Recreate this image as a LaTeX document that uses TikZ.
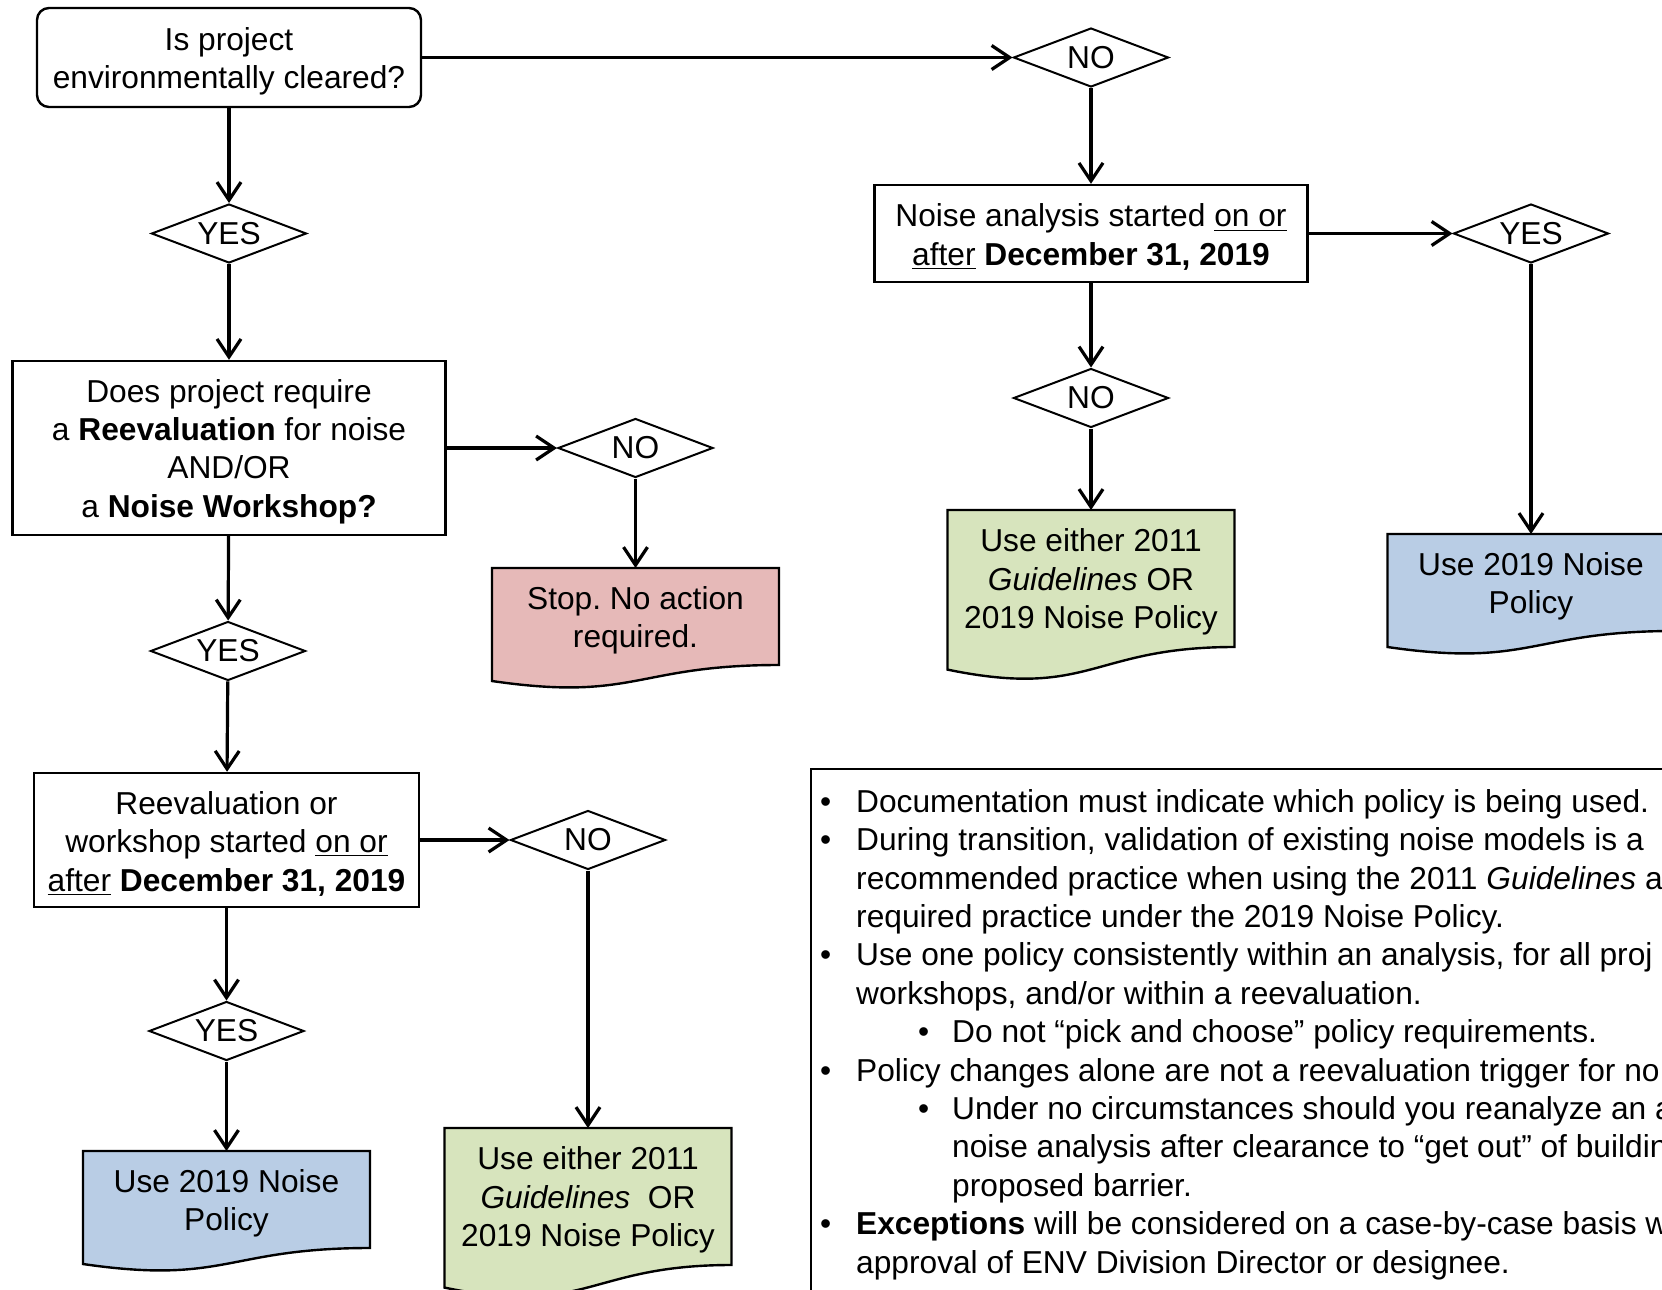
\documentclass[tikz,border=0pt]{standalone}
\usepackage{fontspec}
\setmainfont{Liberation Sans}
\frenchspacing
\usetikzlibrary{shapes.geometric,arrows.meta,backgrounds,calc}

\definecolor{policyblue}{HTML}{B9CDE5}
\definecolor{eithergreen}{HTML}{D7E4BD}
\definecolor{stopred}{HTML}{E6B9B8}

\tikzset{
  every node/.style={font=\fontsize{15.85}{19.2}\selectfont, align=center},
  qbox/.style={draw, line width=1.2pt, rectangle, inner sep=2pt},
  decision/.style={draw, line width=1pt, shape=diamond, aspect=2.6, minimum width=77.5pt, minimum height=29.5pt, inner sep=0pt},
  docnode/.style={rectangle, outer sep=0pt, inner sep=0pt, minimum width=143.5pt},
  conn/.style={line width=1.6pt, -{Straight Barb[length=9pt,width=12pt]}},
}

% taller first line, so the text sits a little lower in its box
\newcommand\lnup{\rule{0pt}{0.95em}}

% wavy-bottom document outline behind a docnode
\newcommand\docshape[2]{%
  \begin{scope}[on background layer]
    \draw[line width=1.2pt, fill=#2]
      (#1.north west) -- (#1.north east) -- (#1.south east)
      .. controls (#1.south) and ($(#1.south)!-0.381!(#1.north)$)
      .. ($(#1.south west)!-0.165!(#1.north west)$) -- cycle;
  \end{scope}}

\begin{document}
\begin{tikzpicture}[x=0.5pt, y=-0.5pt]
  \useasboundingbox (0,0) rectangle (1662,1290);
  \clip (0,0) rectangle (1662,1290);

  % left column
  \node[qbox, rounded corners=6pt, minimum width=192pt, minimum height=49.5pt] (cleared) at (229,57.5)
    {\lnup Is project\\environmentally cleared?};
  \node[decision] (yes1) at (229,233.5) {YES};
  \node[qbox, minimum width=216.5pt, minimum height=87pt] (reeval) at (229,448)
    {\lnup Does project require\\a \textbf{Reevaluation} for noise\\AND/OR\\a \textbf{Noise Workshop?}};
  \node[decision] (yes2) at (228,651) {YES};
  \node[qbox, minimum width=192.5pt, minimum height=67pt] (started) at (226.5,840)
    {\lnup Reevaluation or\\workshop started \underline{on or}\\\underline{after} \textbf{December 31, 2019}};
  \node[decision] (yes3) at (226.5,1031) {YES};
  \node[docnode, minimum height=48.5pt] (useleft) at (226.5,1199.5) {\lnup Use 2019 Noise\\Policy};
  \docshape{useleft}{policyblue}

  % middle column
  \node[decision] (no2) at (635.5,448) {NO};
  \node[docnode, minimum height=48.5pt] (stop) at (635.5,616.5) {\lnup Stop. No action\\required.};
  \docshape{stop}{stopred}
  \node[decision] (no3) at (588,840) {NO};
  \node[docnode, minimum height=68.5pt] (eitherleft) at (588,1196.5)
    {\lnup Use either 2011\\\textit{Guidelines}\ \ OR\\2019 Noise Policy};
  \docshape{eitherleft}{eithergreen}

  % right side
  \node[decision] (no1) at (1091,57.5) {NO};
  \node[qbox, minimum width=216.5pt, minimum height=48.5pt] (analysis) at (1091,233.5)
    {\lnup Noise analysis started \underline{on or}\\\underline{after} \textbf{December 31, 2019}};
  \node[decision] (yesr) at (1531,233.5) {YES};
  \node[decision] (no4) at (1091,398) {NO};
  \node[docnode, minimum height=68.5pt] (eitherright) at (1091,578.5)
    {\lnup Use either 2011\\\textit{Guidelines} OR\\2019 Noise Policy};
  \docshape{eitherright}{eithergreen}
  \node[docnode, minimum height=48.5pt] (useright) at (1531,582.5) {\lnup Use 2019 Noise\\Policy};
  \docshape{useright}{policyblue}

  % connectors
  \draw[conn] (cleared) -- (no1);
  \draw[conn] (cleared) -- (yes1);
  \draw[conn] (yes1) -- (reeval);
  \draw[conn] (reeval) -- (no2);
  \draw[conn] (no2) -- (stop);
  \draw[conn] (reeval) -- (yes2);
  \draw[conn] (yes2) -- (started);
  \draw[conn] (started) -- (no3);
  \draw[conn] (no3) -- (eitherleft);
  \draw[conn] (started) -- (yes3);
  \draw[conn] (yes3) -- (useleft);
  \draw[conn] (no1) -- (analysis);
  \draw[conn] (analysis) -- (yesr);
  \draw[conn] (analysis) -- (no4);
  \draw[conn] (no4) -- (eitherright);
  \draw[conn] (yesr) -- (useright);

  % notes
  \node[draw, line width=1.2pt, minimum width=444.5pt, minimum height=275.5pt] (notes) at (1255.5,1044.5) {};
  \node[anchor=north west, align=left, inner sep=0pt] (notetext) at ([xshift=5pt,yshift=-10.6pt]notes.north west)
    {\makebox[18pt][l]{\textbullet}Documentation must indicate which policy is being used.\\
     \makebox[18pt][l]{\textbullet}During transition, validation of existing noise models is a\\
     \hspace*{18pt}recommended practice when using the 2011 \textit{Guidelines} a\\
     \hspace*{18pt}required practice under the 2019 Noise Policy.\\
     \makebox[18pt][l]{\textbullet}Use one policy consistently within an analysis, for all proj\\
     \hspace*{18pt}workshops, and/or within a reevaluation.\\
     \hspace*{49pt}\makebox[17pt][l]{\textbullet}Do not “pick and choose” policy requirements.\\
     \makebox[18pt][l]{\textbullet}Policy changes alone are not a reevaluation trigger for no\\
     \hspace*{49pt}\makebox[17pt][l]{\textbullet}Under no circumstances should you reanalyze an a\\
     \hspace*{66pt}noise analysis after clearance to “get out” of buildin\\
     \hspace*{66pt}proposed barrier.\\
     \makebox[18pt][l]{\textbullet}\textbf{Exceptions} will be considered on a case-by-case basis w\\
     \hspace*{18pt}approval of ENV Division Director or designee.};
\end{tikzpicture}
\end{document}
